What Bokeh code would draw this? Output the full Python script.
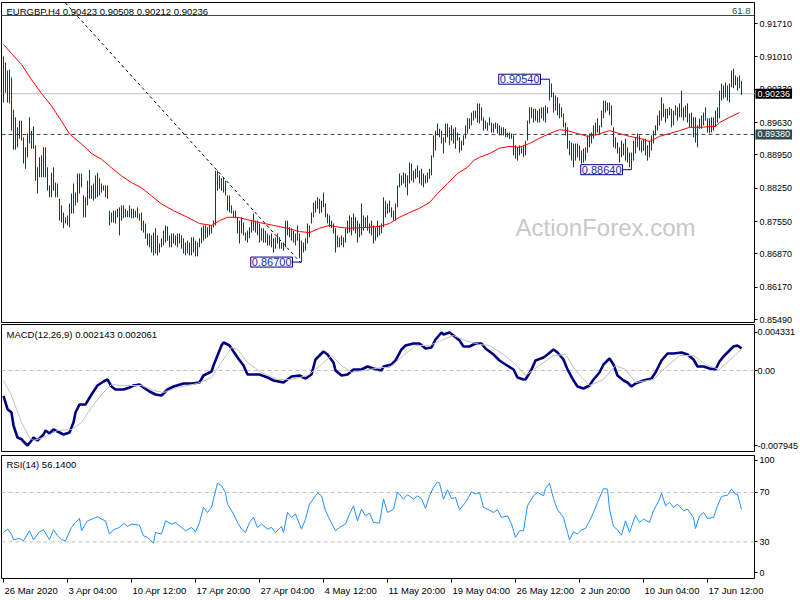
from bokeh.plotting import figure
from bokeh.models import (Range1d, FixedTicker, Label, LinearAxis, PrintfTickFormatter)
from bokeh.core.properties import value
from bokeh.embed import file_html
from bokeh.resources import INLINE

# ---------------- data ----------------
SYMBOL = "EURGBP,H4"
LAST_OHLC = [0.90423, 0.90508, 0.90212, 0.90236]

TICK_IDX = [0, 32, 64, 96, 128, 160, 192, 224, 256, 288, 320, 352]
TICK_LABELS = ["26 Mar 2020", "3 Apr 04:00", "10 Apr 12:00", "17 Apr 20:00",
               "27 Apr 04:00", "4 May 12:00", "11 May 20:00", "19 May 04:00",
               "26 May 12:00", "2 Jun 20:00", "10 Jun 04:00", "17 Jun 12:00"]

PRICE_TICKS = [0.85490, 0.86170, 0.86870, 0.87550, 0.88250, 0.88950,
               0.89630, 0.90330, 0.91010, 0.91710]

HIGH = [
    0.9102, 0.9089, 0.9072, 0.9074, 0.9058, 0.8990, 0.8974, 0.8953, 0.8967, 0.8967,
    0.8932, 0.8911, 0.8940, 0.8974, 0.8946, 0.8955, 0.8915, 0.8869, 0.8890, 0.8894,
    0.8911, 0.8911, 0.8869, 0.8831, 0.8858, 0.8869, 0.8837, 0.8835, 0.8803, 0.8789,
    0.8774, 0.8764, 0.8768, 0.8793, 0.8814, 0.8835, 0.8816, 0.8856, 0.8856, 0.8856,
    0.8810, 0.8806, 0.8841, 0.8864, 0.8831, 0.8835, 0.8852, 0.8858, 0.8846, 0.8835,
    0.8831, 0.8831, 0.8831, 0.8778, 0.8774, 0.8778, 0.8778, 0.8782, 0.8785, 0.8789,
    0.8789, 0.8782, 0.8778, 0.8789, 0.8782, 0.8782, 0.8778, 0.8785, 0.8772, 0.8774,
    0.8757, 0.8751, 0.8730, 0.8730, 0.8726, 0.8732, 0.8741, 0.8726, 0.8709, 0.8720,
    0.8736, 0.8747, 0.8745, 0.8726, 0.8730, 0.8730, 0.8726, 0.8730, 0.8730, 0.8726,
    0.8720, 0.8711, 0.8715, 0.8711, 0.8722, 0.8722, 0.8715, 0.8711, 0.8720, 0.8743,
    0.8747, 0.8747, 0.8743, 0.8747, 0.8747, 0.8757, 0.8862, 0.8862, 0.8852, 0.8846,
    0.8848, 0.8841, 0.8810, 0.8810, 0.8789, 0.8778, 0.8778, 0.8764, 0.8757, 0.8764,
    0.8753, 0.8732, 0.8736, 0.8743, 0.8757, 0.8772, 0.8757, 0.8757, 0.8751, 0.8741,
    0.8741, 0.8736, 0.8730, 0.8726, 0.8730, 0.8720, 0.8722, 0.8730, 0.8722, 0.8711,
    0.8711, 0.8757, 0.8757, 0.8743, 0.8741, 0.8736, 0.8730, 0.8747, 0.8730, 0.8715,
    0.8711, 0.8720, 0.8751, 0.8747, 0.8774, 0.8795, 0.8799, 0.8806, 0.8803, 0.8799,
    0.8816, 0.8793, 0.8772, 0.8768, 0.8757, 0.8751, 0.8741, 0.8726, 0.8722, 0.8726,
    0.8722, 0.8741, 0.8757, 0.8768, 0.8764, 0.8772, 0.8764, 0.8757, 0.8751, 0.8793,
    0.8768, 0.8764, 0.8768, 0.8751, 0.8757, 0.8747, 0.8743, 0.8757, 0.8747, 0.8751,
    0.8806, 0.8799, 0.8793, 0.8799, 0.8785, 0.8778, 0.8793, 0.8831, 0.8856, 0.8852,
    0.8858, 0.8856, 0.8852, 0.8879, 0.8877, 0.8862, 0.8866, 0.8873, 0.8862, 0.8866,
    0.8856, 0.8852, 0.8858, 0.8866, 0.8894, 0.8936, 0.8946, 0.8961, 0.8950, 0.8946,
    0.8932, 0.8961, 0.8961, 0.8953, 0.8957, 0.8950, 0.8953, 0.8942, 0.8932, 0.8925,
    0.8936, 0.8957, 0.8972, 0.8972, 0.8984, 0.8988, 0.8988, 0.9003, 0.9003, 0.8995,
    0.8974, 0.8967, 0.8963, 0.8974, 0.8963, 0.8961, 0.8963, 0.8961, 0.8957, 0.8953,
    0.8953, 0.8950, 0.8942, 0.8942, 0.8940, 0.8936, 0.8915, 0.8911, 0.8915, 0.8911,
    0.8915, 0.8925, 0.8967, 0.8995, 0.8995, 0.8992, 0.8992, 0.8988, 0.8992, 0.8995,
    0.8995, 0.8999, 0.8995, 0.9054, 0.9045, 0.9026, 0.9020, 0.9016, 0.9003, 0.8995,
    0.8982, 0.8963, 0.8953, 0.8925, 0.8921, 0.8919, 0.8919, 0.8919, 0.8915, 0.8904,
    0.8908, 0.8911, 0.8936, 0.8940, 0.8942, 0.8957, 0.8963, 0.8972, 0.8957, 0.8988,
    0.9009, 0.9009, 0.9005, 0.9005, 0.8999, 0.8953, 0.8932, 0.8921, 0.8911, 0.8925,
    0.8919, 0.8929, 0.8911, 0.8900, 0.8900, 0.8925, 0.8932, 0.8940, 0.8936, 0.8925,
    0.8929, 0.8929, 0.8915, 0.8925, 0.8936, 0.8946, 0.8957, 0.8978, 0.8988, 0.9016,
    0.9003, 0.8992, 0.8992, 0.8995, 0.8992, 0.8988, 0.8999, 0.8995, 0.9003, 0.9030,
    0.8995, 0.8999, 0.9003, 0.8982, 0.8984, 0.8974, 0.8974, 0.8957, 0.8971, 0.8978,
    0.8984, 0.8995, 0.8972, 0.8972, 0.8974, 0.8974, 0.8988, 0.8995, 0.9030, 0.9045,
    0.9041, 0.9047, 0.9041, 0.9045, 0.9072, 0.9076, 0.9062, 0.9058, 0.9062, 0.90508,
]

LOW = [
    0.9005, 0.9026, 0.9005, 0.9003, 0.8946, 0.8906, 0.8906, 0.8911, 0.8929, 0.8925,
    0.8877, 0.8866, 0.8890, 0.8919, 0.8908, 0.8908, 0.8841, 0.8814, 0.8848, 0.8848,
    0.8848, 0.8848, 0.8820, 0.8806, 0.8806, 0.8820, 0.8806, 0.8806, 0.8757, 0.8753,
    0.8741, 0.8751, 0.8747, 0.8743, 0.8772, 0.8772, 0.8789, 0.8795, 0.8814, 0.8827,
    0.8764, 0.8764, 0.8789, 0.8803, 0.8803, 0.8799, 0.8803, 0.8806, 0.8810, 0.8816,
    0.8820, 0.8806, 0.8803, 0.8747, 0.8753, 0.8753, 0.8751, 0.8764, 0.8726, 0.8757,
    0.8762, 0.8764, 0.8764, 0.8764, 0.8762, 0.8762, 0.8764, 0.8762, 0.8757, 0.8736,
    0.8732, 0.8719, 0.8705, 0.8701, 0.8690, 0.8684, 0.8688, 0.8684, 0.8690, 0.8701,
    0.8705, 0.8711, 0.8715, 0.8701, 0.8701, 0.8709, 0.8705, 0.8701, 0.8709, 0.8698,
    0.8688, 0.8684, 0.8688, 0.8684, 0.8684, 0.8690, 0.8682, 0.8682, 0.8701, 0.8709,
    0.8715, 0.8719, 0.8722, 0.8726, 0.8730, 0.8743, 0.8747, 0.8820, 0.8824, 0.8820,
    0.8816, 0.8810, 0.8778, 0.8774, 0.8772, 0.8764, 0.8762, 0.8730, 0.8709, 0.8730,
    0.8726, 0.8715, 0.8711, 0.8720, 0.8732, 0.8736, 0.8732, 0.8726, 0.8711, 0.8715,
    0.8711, 0.8711, 0.8705, 0.8705, 0.8701, 0.8690, 0.8698, 0.8709, 0.8698, 0.8698,
    0.8694, 0.8701, 0.8726, 0.8722, 0.8715, 0.8711, 0.8705, 0.8715, 0.8678, 0.8670,
    0.8690, 0.8694, 0.8709, 0.8722, 0.8751, 0.8764, 0.8774, 0.8782, 0.8772, 0.8774,
    0.8785, 0.8764, 0.8751, 0.8743, 0.8741, 0.8730, 0.8690, 0.8701, 0.8701, 0.8705,
    0.8701, 0.8711, 0.8730, 0.8732, 0.8726, 0.8736, 0.8730, 0.8711, 0.8722, 0.8726,
    0.8736, 0.8743, 0.8736, 0.8730, 0.8726, 0.8709, 0.8715, 0.8722, 0.8726, 0.8730,
    0.8743, 0.8764, 0.8772, 0.8774, 0.8764, 0.8757, 0.8757, 0.8785, 0.8827, 0.8831,
    0.8835, 0.8827, 0.8810, 0.8835, 0.8841, 0.8837, 0.8845, 0.8848, 0.8835, 0.8831,
    0.8827, 0.8835, 0.8837, 0.8845, 0.8852, 0.8890, 0.8904, 0.8936, 0.8932, 0.8919,
    0.8898, 0.8921, 0.8932, 0.8915, 0.8925, 0.8919, 0.8908, 0.8925, 0.8900, 0.8904,
    0.8915, 0.8929, 0.8940, 0.8950, 0.8957, 0.8967, 0.8972, 0.8963, 0.8961, 0.8967,
    0.8946, 0.8950, 0.8946, 0.8957, 0.8942, 0.8942, 0.8950, 0.8940, 0.8936, 0.8936,
    0.8936, 0.8932, 0.8932, 0.8929, 0.8929, 0.8894, 0.8887, 0.8883, 0.8894, 0.8898,
    0.8890, 0.8894, 0.8925, 0.8961, 0.8972, 0.8963, 0.8967, 0.8963, 0.8963, 0.8972,
    0.8967, 0.8963, 0.8982, 0.9009, 0.9016, 0.8984, 0.8988, 0.8978, 0.8972, 0.8974,
    0.8953, 0.8936, 0.8908, 0.8894, 0.8883, 0.8869, 0.8883, 0.8890, 0.8883, 0.8877,
    0.8879, 0.8883, 0.8900, 0.8911, 0.8919, 0.8929, 0.8936, 0.8942, 0.8940, 0.8953,
    0.8972, 0.8984, 0.8988, 0.8978, 0.8957, 0.8911, 0.8908, 0.8898, 0.8879, 0.8890,
    0.8894, 0.8883, 0.8879, 0.8869, 0.8864, 0.8883, 0.8898, 0.8911, 0.8904, 0.8900,
    0.8904, 0.8894, 0.8883, 0.8890, 0.8904, 0.8919, 0.8936, 0.8946, 0.8957, 0.8967,
    0.8974, 0.8963, 0.8972, 0.8978, 0.8953, 0.8957, 0.8978, 0.8967, 0.8974, 0.8974,
    0.8967, 0.8974, 0.8963, 0.8953, 0.8953, 0.8932, 0.8921, 0.8911, 0.8950, 0.8950,
    0.8957, 0.8967, 0.8942, 0.8940, 0.8942, 0.8946, 0.8953, 0.8963, 0.8972, 0.9009,
    0.9013, 0.9016, 0.9009, 0.9005, 0.9037, 0.9035, 0.9041, 0.9030, 0.9035, 0.90212,
]

SMA_IDX = [0, 4, 9, 14, 19, 24, 29, 33, 39, 44, 49, 54, 59, 64, 69, 74, 79, 85, 92, 98,
           104, 108, 112, 117, 122, 128, 135, 142, 148, 153, 158, 163, 168, 173, 182, 188,
           193, 198, 203, 208, 213, 217, 222, 227, 232, 235, 238, 243, 248, 253, 258, 263,
           268, 273, 278, 282, 287, 292, 297, 303, 308, 313, 318, 323, 328, 333, 338, 343,
           348, 356, 358, 363, 368]
SMA_VAL = [0.9127, 0.9108, 0.9085, 0.9053, 0.9024, 0.8998, 0.8966, 0.8939, 0.8918, 0.8898,
           0.8886, 0.8868, 0.8851, 0.8837, 0.8826, 0.8809, 0.8792, 0.8778, 0.8764, 0.8751,
           0.8747, 0.8757, 0.8764, 0.8764, 0.8759, 0.8753, 0.8747, 0.8741, 0.8734, 0.8732,
           0.8741, 0.8747, 0.8743, 0.8741, 0.8743, 0.8745, 0.8751, 0.8764, 0.8774, 0.8783,
           0.8795, 0.8814, 0.8835, 0.8856, 0.8869, 0.8883, 0.8890, 0.8898, 0.8909, 0.8913,
           0.8911, 0.8919, 0.8930, 0.8940, 0.8948, 0.8946, 0.8940, 0.8934, 0.8938, 0.8946,
           0.8940, 0.8934, 0.8930, 0.8923, 0.8934, 0.8940, 0.8946, 0.8953, 0.8953, 0.8955,
           0.8963, 0.8974, 0.8984]

# labelled extremes and drawn objects
EXT_IDX = [273, 314, 149]
EXT_VAL = [0.90540, 0.88640, 0.86700]
LEVEL_PRICE = 0.89380
FIB_PRICE = 0.91878
FIB_TEXT = "61.8"
TREND_IDX = [31, 148.5]
TREND_VAL = [0.9214, 0.8669]

MACD_IDX = [0, 2, 4, 5, 7, 9, 10, 12, 14, 15, 17, 20, 21, 23, 25, 28, 30, 33, 35, 36,
            38, 41, 44, 47, 50, 52, 54, 56, 60, 63, 65, 68, 70, 73, 76, 79, 82, 85, 90, 94,
            98, 100, 104, 105, 107, 109, 110, 113, 115, 117, 120, 122, 125, 128, 132, 135,
            140, 144, 148, 151, 154, 156, 160, 162, 165, 166, 169, 172, 175, 179, 182, 185,
            189, 190, 194, 196, 199, 201, 205, 208, 211, 214, 216, 219, 220, 223, 225, 228,
            230, 233, 236, 239, 241, 245, 248, 251, 255, 257, 260, 261, 264, 266, 270, 272,
            275, 277, 280, 282, 285, 287, 290, 293, 295, 298, 300, 303, 305, 307, 310, 312,
            314, 316, 320, 324, 326, 329, 332, 335, 339, 342, 345, 347, 350, 353, 356, 358,
            360, 363, 365, 367, 369]
MACD_VAL = [-0.002447, -0.003742, -0.004061, -0.005318, -0.006479, -0.006643, -0.006866,
            -0.007253, -0.006769, -0.006479, -0.006769, -0.006189, -0.005802, -0.006092,
            -0.005705, -0.005995, -0.006189, -0.005995, -0.005028, -0.004061, -0.003288,
            -0.003288, -0.002321, -0.001451, -0.001064, -0.000870, -0.001547, -0.001837,
            -0.001837, -0.001644, -0.001451, -0.001354, -0.001644, -0.002031, -0.002321,
            -0.002418, -0.001837, -0.001547, -0.001257, -0.001257, -0.001160, -0.000484,
            -0.000097, 0.000484, 0.001451, 0.002418, 0.002708, 0.002418, 0.001837, 0.001257,
            0.000484, -0.000387, -0.000387, -0.000387, -0.000677, -0.000967, -0.001160,
            -0.000580, -0.000484, -0.000774, -0.000387, 0.001064, 0.001837, 0.001547,
            0.000774, 0.0, -0.000484, -0.000387, 0.000097, 0.000097, 0.000387, 0.000193,
            0.0, 0.000387, 0.000580, 0.000967, 0.002031, 0.002418, 0.002611, 0.002611,
            0.002127, 0.002224, 0.002998, 0.003675, 0.003481, 0.003675, 0.003385, 0.002901,
            0.002321, 0.002321, 0.002611, 0.002611, 0.002127, 0.001547, 0.000967, 0.000580,
            0.000097, -0.000677, -0.000870, -0.000870, 0.000097, 0.000967, 0.001257,
            0.001547, 0.002031, 0.001741, 0.001064, 0.000097, -0.000967, -0.001547,
            -0.001741, -0.001451, -0.000870, -0.000193, 0.000580, 0.001160, 0.000580,
            -0.000484, -0.000967, -0.001160, -0.001547, -0.001257, -0.000967, -0.000774,
            -0.000193, 0.000967, 0.001644, 0.001644, 0.001741, 0.001547, 0.001064, 0.000387,
            0.000387, 0.000193, 0.000097, 0.000870, 0.001354, 0.001934, 0.002321, 0.002418,
            0.002143]
SIG_IDX = [0, 4, 9, 13, 15, 20, 27, 34, 39, 44, 49, 54, 60, 69, 75, 80, 87, 97, 104, 109,
           114, 117, 122, 129, 137, 144, 152, 159, 164, 169, 174, 180, 189, 193, 200, 206,
           213, 220, 225, 231, 238, 243, 250, 256, 261, 268, 275, 281, 286, 293, 300, 306,
           311, 316, 325, 331, 338, 345, 351, 358, 363, 369]
SIG_VAL = [-0.000967, -0.002418, -0.005028, -0.006479, -0.006769, -0.006479, -0.005802,
           -0.005705, -0.005028, -0.003578, -0.002321, -0.001354, -0.001451, -0.001451,
           -0.001934, -0.002127, -0.001644, -0.001257, -0.000677, 0.000774, 0.002224,
           0.002031, 0.000774, -0.000193, -0.000870, -0.000870, -0.000484, 0.000580,
           0.001451, 0.000484, -0.000193, 0.0, 0.000290, 0.000290, 0.001451, 0.002418,
           0.002418, 0.002998, 0.003385, 0.002901, 0.002514, 0.002418, 0.001547, 0.000580,
           -0.000484, 0.000484, 0.001451, 0.001547, 0.0, -0.001451, -0.000870, 0.000484,
           0.000097, -0.001160, -0.000870, 0.000290, 0.001451, 0.001451, 0.000580, 0.000097,
           0.000967, 0.002061]
MACD_RANGE = [-0.007945, 0.004331]

RSI_IDX = [0, 2, 4, 5, 8, 10, 12, 13, 15, 18, 20, 23, 25, 27, 29, 31, 34, 36, 38, 39,
           42, 45, 47, 49, 51, 53, 55, 58, 60, 62, 64, 68, 70, 72, 75, 76, 79, 81, 84, 86,
           89, 91, 94, 96, 98, 100, 102, 104, 105, 107, 109, 111, 112, 115, 117, 119, 121,
           123, 125, 127, 129, 132, 134, 136, 139, 140, 142, 144, 146, 148, 149, 151, 153,
           156, 157, 159, 161, 163, 166, 168, 171, 173, 175, 177, 179, 181, 183, 185, 188,
           190, 192, 195, 197, 200, 202, 205, 207, 209, 211, 213, 215, 217, 218, 220, 222,
           224, 226, 228, 231, 234, 236, 238, 240, 242, 245, 247, 249, 252, 254, 256, 258,
           260, 262, 265, 267, 270, 271, 273, 275, 277, 280, 282, 283, 285, 287, 289, 291,
           293, 295, 297, 300, 302, 303, 305, 307, 309, 311, 313, 316, 318, 320, 323, 325,
           328, 329, 331, 333, 335, 337, 340, 342, 345, 346, 348, 350, 352, 355, 357, 359,
           362, 364, 366, 367, 369]
RSI_VAL = [37.6, 40.3, 36.3, 31.7, 32.7, 30.9, 36.3, 39.0, 31.7, 38.1,
           39.8, 31.7, 39.8, 34.9, 31.7, 30.9, 41.7, 45.7, 48.9, 39.0,
           47.0, 48.9, 50.3, 48.4, 47.0, 36.3, 39.8, 41.7, 45.2, 42.5,
           44.4, 43.5, 34.9, 33.6, 29.0, 37.6, 36.3, 47.0, 44.4, 45.7,
           41.7, 39.0, 41.7, 38.1, 45.7, 57.9, 53.8, 57.9, 64.6, 77.6,
           75.4, 70.0, 60.6, 52.5, 45.7, 40.3, 37.6, 45.7, 49.8, 41.7,
           44.4, 40.3, 41.7, 37.6, 42.5, 37.6, 53.8, 49.8, 52.5, 44.4,
           40.3, 48.4, 60.6, 67.3, 69.5, 67.3, 55.2, 48.4, 39.0, 41.7,
           44.4, 52.5, 59.2, 47.0, 56.5, 51.1, 53.3, 45.7, 45.2, 64.6,
           53.8, 56.5, 70.5, 64.6, 68.2, 64.6, 67.3, 65.1, 57.0, 67.3,
           74.1, 78.6, 77.6, 64.6, 72.2, 65.1, 65.9, 56.0, 61.9, 70.5,
           68.7, 70.0, 57.9, 56.5, 53.8, 56.0, 49.8, 51.1, 44.4, 33.6,
           39.0, 39.0, 59.2, 67.3, 70.0, 67.3, 73.2, 77.3, 65.1, 56.0,
           49.8, 37.6, 31.7, 38.1, 36.3, 39.8, 40.8, 47.0, 53.8, 61.9,
           73.2, 72.7, 56.5, 42.5, 39.8, 35.4, 47.0, 37.6, 51.6, 45.7,
           48.4, 45.7, 55.2, 64.6, 69.5, 59.2, 61.9, 57.9, 60.6, 55.2,
           56.5, 49.8, 40.8, 51.1, 53.8, 48.9, 49.8, 59.2, 66.8, 67.8,
           72.7, 68.7, 68.7, 56.14]
RSI_LEVELS = [30, 70]

# ---------------- layout calibration (MT4 window pixels) ----------------
W, H = 800, 600
X0_PX, BAR_PX = 3.0, 2.0            # bar 0 centre, pixels per bar
P0, P_PER_PX = 0.92193, 0.00021     # price at pixel row 0, price per pixel
M0_PX, M_PER_PX = 370.0, 0.0000967  # MACD zero row, MACD per pixel
R0, R_PER_PX = 468.5, 0.81          # RSI at pixel row 0, RSI per pixel


def bar_at(px):
    return (px - X0_PX) / BAR_PX


def price_at(py):
    return P0 - P_PER_PX * py


def macd_at(py):
    return (M0_PX - py) * M_PER_PX


def rsi_at(py):
    return R0 - R_PER_PX * py


LEFT, RIGHT = bar_at(1), bar_at(754)
MAIN_TOP, MAIN_BOT = price_at(2), price_at(322)
MACD_TOP, MACD_BOT = macd_at(324), macd_at(451)
RSI_TOP, RSI_BOT = rsi_at(455), rsi_at(578)

FONT = "Liberation Sans"
FS = "9.5px"
AXFS = "9px"
BAR = "#0f3a5a"
NAVY = "#000080"
SILVER = "#c0c0c0"
SLATE = "#2f4f4f"

p = figure(width=W, height=H, title=None,
           x_range=Range1d(bar_at(0), bar_at(W)), y_range=Range1d(price_at(H), price_at(0)),
           x_axis_location=None, y_axis_location=None, toolbar_location=None,
           output_backend="svg", min_border=0, min_border_left=0, min_border_right=0,
           min_border_top=0, min_border_bottom=0,
           background_fill_color="white", border_fill_color="white")
p.outline_line_color = None
p.grid.visible = False
p.extra_y_ranges = {"macd": Range1d(macd_at(H), macd_at(0)),
                    "rsi": Range1d(rsi_at(H), rsi_at(0))}


def style_axis(ax, tick_out=3, standoff=1):
    ax.axis_line_color = None
    ax.major_tick_out = tick_out
    ax.major_tick_in = 0
    ax.major_tick_line_color = "black"
    ax.minor_tick_line_color = None
    ax.major_label_text_font = FONT
    ax.major_label_text_font_size = AXFS
    ax.major_label_text_color = "black"
    ax.major_label_standoff = standoff


# ---------- panel frames ----------
p.quad(left=[LEFT], right=[RIGHT], top=[MAIN_TOP], bottom=[MAIN_BOT],
       fill_color=None, line_color="black", line_width=1)
p.quad(left=[LEFT], right=[RIGHT], top=[MACD_TOP], bottom=[MACD_BOT],
       fill_color=None, line_color="black", line_width=1, y_range_name="macd")
p.quad(left=[LEFT], right=[RIGHT], top=[RSI_TOP], bottom=[RSI_BOT],
       fill_color=None, line_color="black", line_width=1, y_range_name="rsi")

# ---------- main price panel ----------
p.add_layout(Label(x=bar_at(515), y=price_at(240), text="ActionForex.com",
                   text_font=FONT, text_font_size="24px", text_color="#c8c8c8",
                   level="underlay"))
p.segment(x0=[LEFT], x1=[RIGHT], y0=[LAST_OHLC[3]], y1=[LAST_OHLC[3]],
          line_color=SILVER, line_width=1)
p.segment(x0=[LEFT], x1=[RIGHT], y0=[LEVEL_PRICE], y1=[LEVEL_PRICE],
          line_color=SLATE, line_width=1, line_dash="4 3")
p.segment(x0=[LEFT], x1=[RIGHT], y0=[FIB_PRICE], y1=[FIB_PRICE],
          line_color=SLATE, line_width=1)
p.line(TREND_IDX, TREND_VAL, line_color="black", line_width=1, line_dash="3 3")

idx = list(range(len(HIGH)))
p.segment(x0=idx, y0=LOW, x1=idx, y1=HIGH, line_color=BAR, line_width=1)
p.line(SMA_IDX, SMA_VAL, line_color="#ff0000", line_width=1)

p.segment(x0=[i - 4.5 for i in EXT_IDX], y0=EXT_VAL, x1=EXT_IDX, y1=EXT_VAL,
          line_color=NAVY, line_width=1)
for i, v in zip(EXT_IDX, EXT_VAL):
    p.add_layout(Label(x=i - 4.5, y=v, text=f"{v:.5f}", text_align="right",
                       text_baseline="middle", text_font=FONT, text_font_size="11px",
                       text_color="#1c1cb4", background_fill_color="white",
                       border_line_color=NAVY, border_line_width=1, padding=1))

p.add_layout(Label(x=LEFT, y=MAIN_TOP, x_offset=5, y_offset=-3,
                   text=SYMBOL + "  " + " ".join(f"{v:.5f}" for v in LAST_OHLC),
                   text_baseline="top", text_font=FONT, text_font_size=FS,
                   text_color="black"))
p.add_layout(Label(x=RIGHT, y=FIB_PRICE, x_offset=-4, y_offset=2, text=FIB_TEXT,
                   text_align="right", text_baseline="bottom", text_font=FONT,
                   text_font_size=FS, text_color=SLATE))

pax = LinearAxis(fixed_location=RIGHT, ticker=FixedTicker(ticks=PRICE_TICKS),
                 formatter=PrintfTickFormatter(format="%.5f"))
style_axis(pax, standoff=2)
p.add_layout(pax, "right")

p.add_layout(Label(x=RIGHT, y=LAST_OHLC[3], x_offset=1, text=f"{LAST_OHLC[3]:.5f}",
                   text_align="left", text_baseline="middle", text_font=FONT,
                   text_font_size=AXFS, text_color="white", background_fill_color="black",
                   padding=2))
p.add_layout(Label(x=RIGHT, y=LEVEL_PRICE, x_offset=1, text=f"{LEVEL_PRICE:.5f}",
                   text_align="left", text_baseline="middle", text_font=FONT,
                   text_font_size=AXFS, text_color="white", background_fill_color=SLATE,
                   padding=2))

# ---------- MACD panel ----------
p.segment(x0=[LEFT], x1=[RIGHT], y0=[0.0], y1=[0.0], y_range_name="macd",
          line_color=SILVER, line_width=1, line_dash="4 3")
p.line(MACD_IDX, MACD_VAL, y_range_name="macd", line_color=NAVY, line_width=2.6)
p.line(SIG_IDX, SIG_VAL, y_range_name="macd", line_color=SILVER, line_width=1)
p.add_layout(Label(x=LEFT, y=MACD_TOP, y_range_name="macd", x_offset=5, y_offset=-4,
                   text=f"MACD(12,26,9) {MACD_VAL[-1]:.6f} {SIG_VAL[-1]:.6f}",
                   text_baseline="top", text_font=FONT, text_font_size=FS,
                   text_color="black"))
max_ = LinearAxis(y_range_name="macd", fixed_location=RIGHT,
                  ticker=FixedTicker(ticks=[-0.0073, 0.0, 0.0037]))
max_.major_label_overrides = {-0.0073: f"{MACD_RANGE[0]:.6f}", 0.0: "0.00",
                              0.0037: f"{MACD_RANGE[1]:.6f}"}
style_axis(max_, standoff=0)
p.add_layout(max_, "right")

# ---------- RSI panel ----------
p.segment(x0=[LEFT] * len(RSI_LEVELS), x1=[RIGHT] * len(RSI_LEVELS),
          y0=RSI_LEVELS, y1=RSI_LEVELS, y_range_name="rsi",
          line_color=SILVER, line_width=1, line_dash="4 3")
p.line(RSI_IDX, RSI_VAL, y_range_name="rsi", line_color="#1e90ff", line_width=1)
p.add_layout(Label(x=LEFT, y=RSI_TOP, y_range_name="rsi", x_offset=5, y_offset=-3,
                   text=f"RSI(14) {RSI_VAL[-1]:.4f}", text_baseline="top",
                   text_font=FONT, text_font_size=FS, text_color="black"))
rax = LinearAxis(y_range_name="rsi", fixed_location=RIGHT,
                 ticker=FixedTicker(ticks=[5, 30, 70, 96]))
rax.major_label_overrides = {5: "0", 30: "30", 70: "70", 96: "100"}
style_axis(rax, standoff=2)
p.add_layout(rax, "right")

# ---------- time axis ----------
xax = LinearAxis(fixed_location=price_at(578), ticker=FixedTicker(ticks=TICK_IDX))
xax.major_label_overrides = {t: "" for t in TICK_IDX}
style_axis(xax, tick_out=4)
p.add_layout(xax, "below")
p.text(x=TICK_IDX, y=[rsi_at(590)] * len(TICK_IDX), text=TICK_LABELS,
       y_range_name="rsi", x_offset=1, text_align="left", text_baseline="middle",
       text_font=value(FONT), text_font_size=value(FS), text_color="black")

html = file_html(p, INLINE, title="EURGBP H4")
open("out.html", "w").write(html)
